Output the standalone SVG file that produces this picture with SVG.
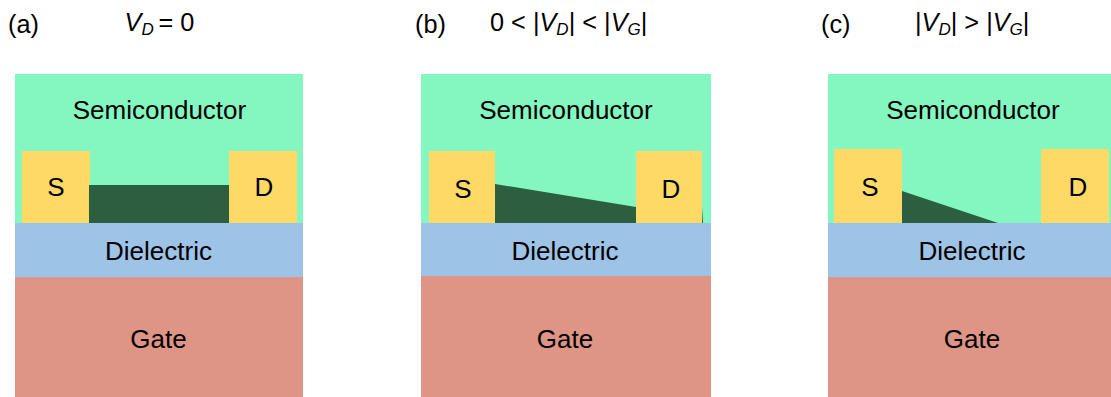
<svg xmlns="http://www.w3.org/2000/svg" width="1111" height="397" viewBox="0 0 1111 397">
<style>
text{font-family:"Liberation Sans",Arial,sans-serif;font-size:26px;fill:#000}
.m{text-anchor:middle}
.h{font-size:25.300px}
.i{font-style:italic}
.sub{font-style:italic;font-size:17px}
.semi{fill:#84f7c0}.diel{fill:#9dc3e6}.gate{fill:#de9585}.elec{fill:#ffd966}.chan{fill:#2b5f3f}
</style>
<rect width="1111" height="397" fill="#fff"/>
<g id="panel-a">
<text class="h" x="8" y="33">(a)</text>
<text class="h" x="124.500" y="31"><tspan class="i">V</tspan><tspan class="sub" dy="4">D</tspan><tspan dy="-4" x="158.500">= 0</tspan></text>
<rect class="semi" x="15" y="74" width="288" height="149"/>
<rect class="diel" x="15" y="223" width="288" height="54"/>
<rect class="gate" x="15" y="277" width="288" height="120"/>
<rect class="elec" x="22" y="151" width="68" height="72"/>
<rect class="elec" x="229" y="151" width="68" height="72"/>
<rect class="chan" x="89" y="185" width="140" height="38"/>
<text class="m" x="159.500" y="119">Semiconductor</text>
<text class="m" x="56" y="196">S</text>
<text class="m" x="264" y="196">D</text>
<text class="m" x="158.500" y="260">Dielectric</text>
<text class="m" x="158.500" y="348">Gate</text>
</g>
<g id="panel-b">
<text class="h" x="415" y="33">(b)</text>
<text class="h" x="490" y="31">0 &lt; |<tspan class="i">V</tspan><tspan class="sub" dy="4">D</tspan><tspan dy="-4">| &lt; |</tspan><tspan class="i">V</tspan><tspan class="sub" dy="4">G</tspan><tspan dy="-4">|</tspan></text>
<rect class="semi" x="421" y="74" width="290" height="149"/>
<rect class="diel" x="421" y="223" width="290" height="53"/>
<rect class="gate" x="421" y="276" width="290" height="121"/>
<polygon class="chan" points="495,184 636,207 702,207 703,223 495,223"/>
<rect class="elec" x="429" y="151" width="66" height="72"/>
<rect class="elec" x="636" y="151" width="66" height="72"/>
<text class="m" x="566" y="119">Semiconductor</text>
<text class="m" x="463" y="198">S</text>
<text class="m" x="671" y="198">D</text>
<text class="m" x="565" y="260">Dielectric</text>
<text class="m" x="565" y="348">Gate</text>
</g>
<g id="panel-c">
<text class="h" x="821" y="33">(c)</text>
<text class="h" x="915" y="31">|<tspan class="i">V</tspan><tspan class="sub" dy="4">D</tspan><tspan dy="-4">| &gt; |</tspan><tspan class="i">V</tspan><tspan class="sub" dy="4">G</tspan><tspan dy="-4">|</tspan></text>
<rect class="semi" x="828" y="74" width="283" height="149"/>
<rect class="diel" x="828" y="223" width="283" height="54"/>
<rect class="gate" x="828" y="277" width="283" height="120"/>
<polygon class="chan" points="902,191 998,223 902,223"/>
<rect class="elec" x="834" y="149" width="68" height="74"/>
<rect class="elec" x="1041" y="149" width="68" height="74"/>
<text class="m" x="973" y="119">Semiconductor</text>
<text class="m" x="870" y="196">S</text>
<text class="m" x="1078" y="196">D</text>
<text class="m" x="972" y="260">Dielectric</text>
<text class="m" x="972" y="348">Gate</text>
</g>
</svg>
